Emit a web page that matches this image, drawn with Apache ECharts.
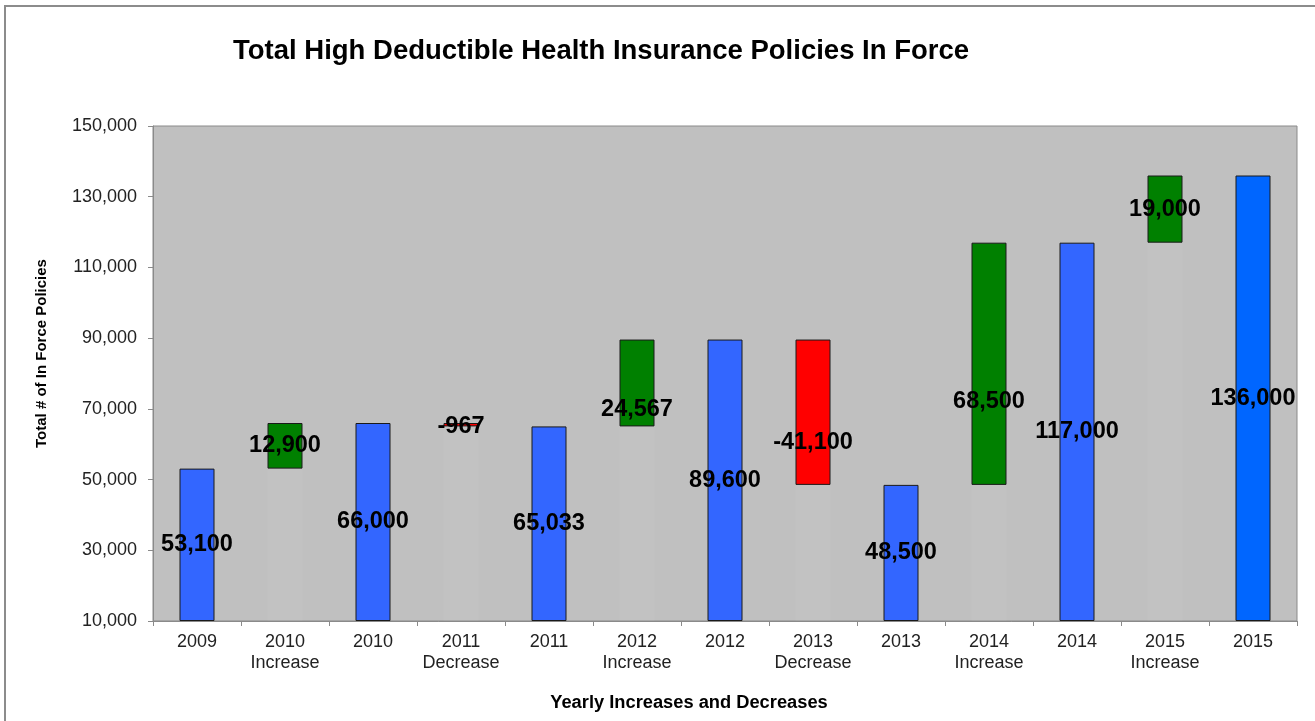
<!DOCTYPE html>
<html>
<head>
<meta charset="utf-8">
<script src="https://cdn.jsdelivr.net/npm/echarts@6/dist/echarts.min.js"></script>
<style>
  html, body { margin: 0; padding: 0; background: #fff; }
  #chart { width: 1315px; height: 721px; }
</style>
</head>
<body>
<div id="chart"></div>
<script>
// categories along the x axis
const categories = [
  "2009", "2010\nIncrease", "2010", "2011\nDecrease", "2011", "2012\nIncrease",
  "2012", "2013\nDecrease", "2013", "2014\nIncrease", "2014", "2015\nIncrease", "2015"
];
// year-end totals (the blue bars) and yearly changes (green / red bars)
const totals = [53100, 66000, 65033, 89600, 48500, 117000, 136000];
const changes = [12900, -967, 24567, -41100, 68500, 19000];
const yTicks = { min: 10000, max: 150000, interval: 20000 };

// build waterfall: invisible base + visible segment
const baseData = [];
const barData = [];
const labelValues = [];
const kinds = []; // total / up / down
let t = 0;
categories.forEach((c, i) => {
  if (i % 2 === 0) {
    const v = totals[i / 2];
    baseData.push(yTicks.min);
    barData.push(v - yTicks.min);
    labelValues.push(v);
    kinds.push("total");
    t = v;
  } else {
    const d = changes[(i - 1) / 2];
    const lo = d >= 0 ? t : t + d;
    baseData.push(lo);
    barData.push(Math.abs(d));
    labelValues.push(d);
    kinds.push(d >= 0 ? "up" : "down");
  }
});

// Excel put a few of the labels lower than the bar centre
const labelNudge = { 3: 2, 5: 27, 7: 30, 9: 38 };

const fmt = (v) => v.toLocaleString("en-US");
const font = "Liberation Sans, Arial, sans-serif";

const chart = echarts.init(document.getElementById("chart"));
const option = {
  backgroundColor: "#fff",
  animation: false,
  textStyle: { fontFamily: font },
  title: {
    text: "Total High Deductible Health Insurance Policies In Force",
    left: 228,
    top: 32,
    textStyle: { fontSize: 27.5, fontWeight: "bold", color: "#000", fontFamily: font },
  },
  graphic: [
    {
      type: "rect",
      silent: true,
      shape: { x: 5, y: 6, width: 1330, height: 730 },
      style: { fill: "none", stroke: "#8c8c8c", lineWidth: 2 },
    },
  ],
  grid: {
    left: 153,
    right: 18,
    top: 126,
    bottom: 100,
    show: true,
    backgroundColor: "#c0c0c0",
    borderColor: "#8a8a8a",
    borderWidth: 1,
  },
  xAxis: {
    type: "category",
    data: categories,
    name: "Yearly Increases and Decreases",
    nameLocation: "middle",
    nameGap: 73,
    nameTextStyle: {
      fontSize: 18.3,
      fontWeight: "bold",
      color: "#000",
      fontFamily: font,
      padding: [0, 72, 0, 0],
    },
    axisLine: { lineStyle: { color: "#8a8a8a" } },
    axisTick: { show: true, length: 5, lineStyle: { color: "#8a8a8a" } },
    axisLabel: {
      fontSize: 18,
      color: "#222",
      fontFamily: font,
      margin: 11,
      lineHeight: 21,
      interval: 0,
    },
  },
  yAxis: {
    type: "value",
    min: yTicks.min,
    max: yTicks.max,
    interval: yTicks.interval,
    name: "Total # of In Force Policies",
    nameLocation: "middle",
    nameGap: 104,
    nameTextStyle: {
      fontSize: 15,
      fontWeight: "bold",
      color: "#000",
      fontFamily: font,
      padding: [0, 0, 0, 40],
    },
    axisLine: { show: true, lineStyle: { color: "#8a8a8a" } },
    axisTick: { show: true, length: 5, lineStyle: { color: "#8a8a8a" } },
    splitLine: { show: false },
    axisLabel: {
      fontSize: 18,
      color: "#222",
      fontFamily: font,
      margin: 16,
      formatter: (v) => fmt(v),
    },
  },
  series: [
    {
      name: "base",
      type: "bar",
      stack: "wf",
      barWidth: 35,
      silent: true,
      data: baseData.map((v, i) => ({
        value: v,
        itemStyle: {
          color: kinds[i] === "total" ? "rgba(0,0,0,0)" : "rgba(255,255,255,0.035)",
        },
      })),
    },
    {
      name: "value",
      type: "bar",
      stack: "wf",
      barWidth: 35,
      data: barData.map((v, i) => {
        let color = "#3366ff";
        if (kinds[i] === "up") color = "#008000";
        if (kinds[i] === "down") color = "#ff0000";
        if (i === categories.length - 1) color = "#0066ff";
        return {
          value: v,
          itemStyle: { color: color, borderColor: "#1a1a1a", borderWidth: 1 },
          label: {
            show: true,
            position: "inside",
            offset: [0, labelNudge[i] || 0],
            formatter: () => fmt(labelValues[i]),
            fontSize: 23.5,
            fontWeight: "bold",
            color: "#000",
            fontFamily: font,
          },
        };
      }),
    },
  ],
};
chart.setOption(option);
</script>
</body>
</html>
